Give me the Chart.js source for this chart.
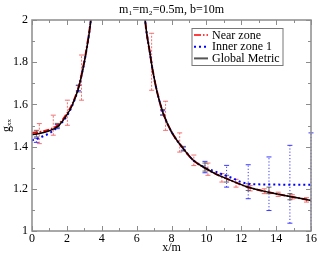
<!DOCTYPE html>
<html>
<head>
<meta charset="utf-8">
<script src="https://cdn.jsdelivr.net/npm/chart.js@4/dist/chart.umd.min.js"></script>
<style>
  body { margin: 0; background: #fff; }
  canvas { display: block; }
</style>
</head>
<body>
<canvas id="chart" width="319" height="255"></canvas>
<script>
// Tick labels
const xTickLabels = [0, 2, 4, 6, 8, 10, 12, 14, 16];
const yTickLabels = [1, 1.2, 1.4, 1.6, 1.8, 2];

// Global metric (black solid)
const globalX = [0, 0.5, 1, 1.5, 2, 2.3, 2.66, 2.85, 3.0, 3.15, 3.3, 3.4, 3.5, 5, 6.45, 6.5, 6.6, 6.75, 6.92, 7.2, 7.53, 8, 8.68, 9.25, 10, 10.5, 11.16, 12.31, 13.55, 14.79, 16];
const globalY = [1.457, 1.463, 1.475, 1.497, 1.55, 1.595, 1.675, 1.74, 1.80, 1.87, 1.95, 2.02, 2.12, null, 2.04, 1.99, 1.925, 1.85, 1.762, 1.65, 1.557, 1.47, 1.39, 1.335, 1.295, 1.272, 1.248, 1.21, 1.184, 1.164, 1.145];

// Near zone (red dash-dot)
const nearX = [0, 0.5, 1, 1.5, 2, 2.3, 2.66, 2.85, 3.0, 3.15, 3.3, 3.4, 3.5, 5, 6.45, 6.5, 6.6, 6.75, 6.92, 7.2, 7.53, 8, 8.68, 9.25, 10, 10.5, 11.16, 12.31, 13.55, 14.79, 16];
const nearY = [1.465, 1.47, 1.481, 1.503, 1.556, 1.6, 1.68, 1.745, 1.805, 1.875, 1.955, 2.025, 2.125, null, 2.04, 1.99, 1.925, 1.85, 1.762, 1.65, 1.557, 1.47, 1.39, 1.335, 1.295, 1.272, 1.248, 1.21, 1.184, 1.164, 1.145];

// Inner zone 1 (blue dotted)
const innerX = [0, 0.3, 0.63, 1, 1.5, 2, 2.3, 2.66, 2.85, 3.0, 3.15, 3.3, 3.4, 3.5, 5, 6.45, 6.5, 6.6, 6.75, 6.92, 7.2, 7.53, 8, 8.68, 9.25, 10, 10.5, 11, 11.5, 12, 12.5, 13, 14, 15, 16];
const innerY = [1.43, 1.437, 1.449, 1.463, 1.496, 1.545, 1.593, 1.675, 1.74, 1.80, 1.87, 1.95, 2.02, 2.12, null, 2.04, 1.99, 1.925, 1.85, 1.762, 1.65, 1.557, 1.47, 1.39, 1.335, 1.298, 1.282, 1.266, 1.25, 1.232, 1.223, 1.221, 1.22, 1.219, 1.219];

// Error bars
const nearErrX = [0.42, 1.22, 2.03, 2.84, 6.86, 7.66, 8.47, 9.28, 10.09, 10.89, 11.70, 12.51, 13.32, 14.12, 14.93, 15.74];
const nearErrLo = [1.414, 1.454, 1.501, 1.62, 1.667, 1.477, 1.374, 1.31, 1.264, 1.232, 1.208, 1.19, 1.177, 1.164, 1.152, 1.137];
const nearErrHi = [1.509, 1.549, 1.62, 1.834, 1.937, 1.615, 1.465, 1.36, 1.322, 1.272, 1.245, 1.215, 1.2, 1.184, 1.172, 1.158];

const globalErrX = [0.25, 1.45, 2.66, 7.49, 8.68, 9.92, 11.16, 12.40, 13.59, 14.79];
const globalErrLo = [1.446, 1.49, 1.659, 1.549, 1.379, 1.284, 1.232, 1.192, 1.177, 1.148];
const globalErrHi = [1.477, 1.51, 1.691, 1.576, 1.401, 1.322, 1.264, 1.224, 1.208, 1.177];

const innerErrX = [0.25, 1.45, 2.66, 7.49, 8.68, 9.92, 11.16, 12.40, 13.59, 14.79, 16];
const innerErrLo = [1.42, 1.485, 1.665, 1.55, 1.383, 1.276, 1.208, 1.153, 1.097, 1.037, 0.97];
const innerErrHi = [1.44, 1.505, 1.69, 1.57, 1.398, 1.33, 1.311, 1.314, 1.351, 1.406, 1.465];

const FONT = "'Liberation Serif', 'DejaVu Serif', serif";
const FRAME = '#8c8c8c';

function pts(xs, ys) {
    return xs.map((x, i) => ({ x: x, y: ys[i] }));
}

const errGroups = [
    { xs: nearErrX, lo: nearErrLo, hi: nearErrHi, color: '#f07272', dash: [2, 1.5] },
    { xs: innerErrX, lo: innerErrLo, hi: innerErrHi, color: '#3a3aff', dash: [1.2, 2] },
    { xs: globalErrX, lo: globalErrLo, hi: globalErrHi, color: '#666666', dash: [] }
];

const legendItems = [
    { text: 'Near zone', color: '#ff0000', dash: [7, 2, 1.5, 2], width: 1.5 },
    { text: 'Inner zone 1', color: '#0000ff', dash: [2, 3], width: 2 },
    { text: 'Global Metric', color: '#555555', dash: [], width: 2 }
];

const extras = {
    id: 'extras',
    beforeDatasetsDraw(chart) {
        const { ctx, chartArea: a, scales: { x, y } } = chart;
        ctx.save();
        ctx.beginPath();
        ctx.rect(a.left - 4, a.top, a.right - a.left + 8, a.bottom - a.top);
        ctx.clip();
        errGroups.forEach(g => {
            g.xs.forEach((xv, i) => {
                const px = x.getPixelForValue(xv);
                const p1 = y.getPixelForValue(g.lo[i]);
                const p2 = y.getPixelForValue(g.hi[i]);
                ctx.strokeStyle = g.color;
                ctx.lineWidth = 1;
                ctx.setLineDash(g.dash);
                ctx.beginPath();
                ctx.moveTo(px, p1);
                ctx.lineTo(px, p2);
                ctx.stroke();
                ctx.setLineDash([]);
                ctx.beginPath();
                ctx.moveTo(px - 2.5, p1); ctx.lineTo(px + 2.5, p1);
                ctx.moveTo(px - 2.5, p2); ctx.lineTo(px + 2.5, p2);
                ctx.stroke();
            });
        });
        ctx.restore();
    },
    afterDraw(chart) {
        const { ctx, chartArea: a, scales: { x, y } } = chart;
        ctx.save();
        // frame
        ctx.strokeStyle = FRAME;
        ctx.lineWidth = 1.5;
        ctx.strokeRect(a.left, a.top, a.right - a.left, a.bottom - a.top);
        // inward ticks on all sides
        ctx.lineWidth = 1;
        ctx.beginPath();
        x.ticks.forEach(t => {
            const px = Math.round(x.getPixelForValue(t.value)) + 0.5;
            const len = Math.round(t.value) % 2 === 0 ? 5 : 3;
            ctx.moveTo(px, a.bottom); ctx.lineTo(px, a.bottom - len);
            ctx.moveTo(px, a.top); ctx.lineTo(px, a.top + len);
        });
        y.ticks.forEach(t => {
            const py = Math.round(y.getPixelForValue(t.value)) + 0.5;
            const len = Math.round(t.value * 10) % 2 === 0 ? 5 : 3;
            ctx.moveTo(a.left, py); ctx.lineTo(a.left + len, py);
            ctx.moveTo(a.right, py); ctx.lineTo(a.right - len, py);
        });
        ctx.stroke();
        // legend box
        const bx = 192, by = 28.5, bw = 91, bh = 37;
        ctx.fillStyle = '#fff';
        ctx.fillRect(bx, by, bw, bh);
        ctx.strokeStyle = '#777';
        ctx.lineWidth = 1;
        ctx.strokeRect(bx, by, bw, bh);
        ctx.font = '12px ' + FONT;
        ctx.textBaseline = 'middle';
        legendItems.forEach((item, i) => {
            const ry = by + 6.5 + i * 11.7;
            ctx.strokeStyle = item.color;
            ctx.lineWidth = item.width;
            ctx.setLineDash(item.dash);
            ctx.beginPath();
            ctx.moveTo(bx + 2, ry);
            ctx.lineTo(bx + 16, ry);
            ctx.stroke();
            ctx.setLineDash([]);
            ctx.fillStyle = '#000';
            ctx.fillText(item.text, bx + 20, ry + 0.5);
        });
        ctx.restore();
    }
};

new Chart(document.getElementById('chart'), {
    type: 'line',
    data: {
        datasets: [
            {
                label: 'Global Metric',
                data: pts(globalX, globalY),
                borderColor: '#000',
                borderWidth: 1.5,
                order: 0
            },
            {
                label: 'Near zone',
                data: pts(nearX, nearY),
                borderColor: '#ff0000',
                borderWidth: 2,
                borderDash: [6, 2, 1.5, 2],
                order: 1
            },
            {
                label: 'Inner zone 1',
                data: pts(innerX, innerY),
                borderColor: '#0000ff',
                borderWidth: 2,
                borderDash: [2, 3],
                order: 2
            }
        ]
    },
    options: {
        responsive: false,
        animation: false,
        spanGaps: false,
        elements: {
            point: { radius: 0 },
            line: { cubicInterpolationMode: 'monotone', fill: false }
        },
        layout: { padding: { left: 0, right: 8, top: 0, bottom: 0 } },
        plugins: {
            legend: { display: false },
            tooltip: { enabled: false },
            title: {
                display: true,
                text: 'm\u2081=m\u2082=0.5m, b=10m',
                fullSize: false,
                color: '#000',
                font: { family: FONT, size: 12, weight: 'normal', lineHeight: 1.2 },
                padding: { top: 3, bottom: 2.6 }
            }
        },
        scales: {
            x: {
                type: 'linear',
                min: 0,
                max: 16,
                grid: { display: false, drawTicks: false },
                border: { display: false },
                ticks: {
                    stepSize: 1,
                    autoSkip: false,
                    maxRotation: 0,
                    padding: 1,
                    color: '#000',
                    font: { family: FONT, size: 12 },
                    callback: v => xTickLabels.includes(v) ? String(v) : ''
                },
                title: {
                    display: true,
                    text: 'x/m',
                    color: '#000',
                    font: { family: FONT, size: 12 },
                    padding: 0
                },
                afterFit: s => { s.height = 24; }
            },
            y: {
                min: 1,
                max: 2,
                grid: { display: false, drawTicks: false },
                border: { display: false },
                ticks: {
                    stepSize: 0.1,
                    autoSkip: false,
                    padding: 4,
                    color: '#000',
                    font: { family: FONT, size: 12 },
                    callback: v => {
                        const r = Math.round(v * 10) / 10;
                        return yTickLabels.includes(r) ? String(r) : '';
                    }
                },
                title: {
                    display: true,
                    text: 'g\u2093\u2093',
                    color: '#000',
                    font: { family: FONT, size: 12 },
                    padding: 0
                },
                afterFit: s => { s.width = 32; }
            }
        }
    },
    plugins: [extras]
});
</script>
</body>
</html>
